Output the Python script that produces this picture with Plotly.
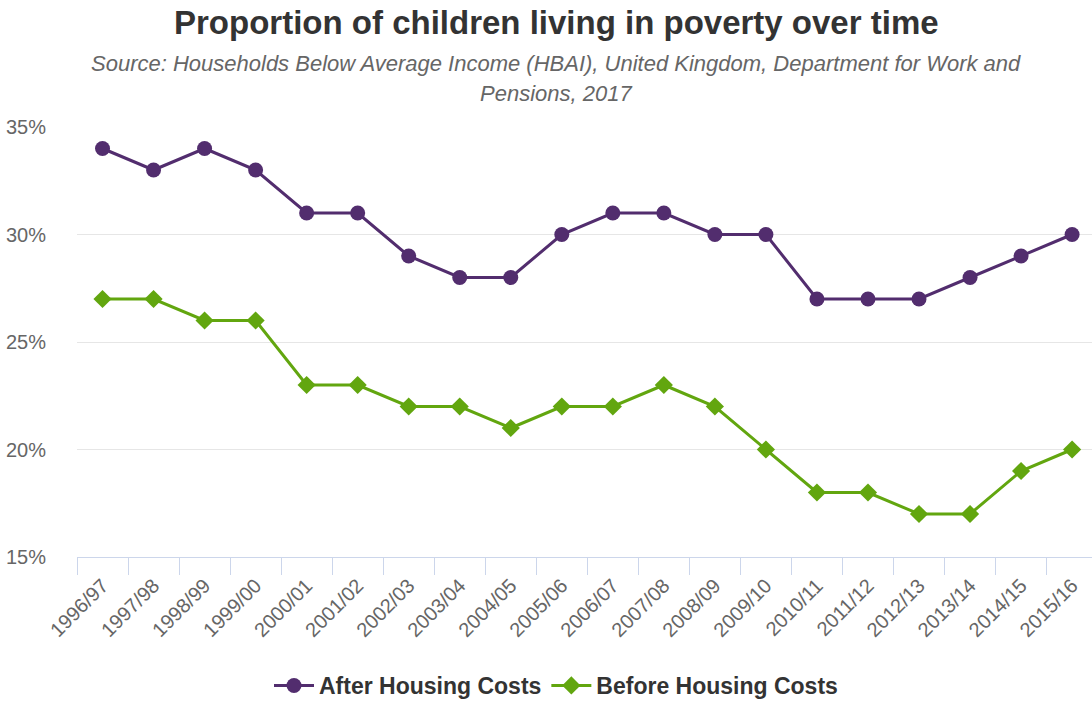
import plotly.graph_objects as go

years = ["1996/97", "1997/98", "1998/99", "1999/00", "2000/01", "2001/02", "2002/03",
         "2003/04", "2004/05", "2005/06", "2006/07", "2007/08", "2008/09", "2009/10",
         "2010/11", "2011/12", "2012/13", "2013/14", "2014/15", "2015/16"]
after_housing = [34, 33, 34, 33, 31, 31, 29, 28, 28, 30, 31, 31, 30, 30, 27, 27, 27, 28, 29, 30]
before_housing = [27, 27, 26, 26, 23, 23, 22, 22, 21, 22, 22, 23, 22, 20, 18, 18, 17, 17, 19, 20]
y_ticks = [15, 20, 25, 30, 35]

FONT = "Liberation Sans, Arial, Helvetica, sans-serif"
PURPLE = "#522d6e"
GREEN = "#62a60f"

fig = go.Figure()
fig.add_trace(go.Scatter(
    x=years, y=after_housing, name="After Housing Costs", mode="lines+markers",
    line=dict(color=PURPLE, width=3),
    marker=dict(symbol="circle", size=15, color=PURPLE),
))
fig.add_trace(go.Scatter(
    x=years, y=before_housing, name="Before Housing Costs", mode="lines+markers",
    line=dict(color=GREEN, width=3),
    marker=dict(symbol="diamond", size=14, color=GREEN),
))

W, H = 1092, 707
ml, mr, mt, mb = 77, 0, 127, 147
ph = H - mt - mb
cx = (556 - ml) / (W - ml - mr)


def py(pix):
    return 1 + (mt - pix) / ph


fig.update_layout(
    width=W, height=H,
    margin=dict(l=ml, r=mr, t=mt, b=mb),
    paper_bgcolor="white", plot_bgcolor="white",
    font=dict(family=FONT, color="#666666", size=18),
    showlegend=True,
    legend=dict(
        orientation="h", x=cx, xanchor="center", y=py(690), yanchor="middle",
        font=dict(size=23, color="#333333", family=FONT, weight="bold"),
        itemwidth=40, tracegroupgap=0,
    ),
    annotations=[
        dict(text="<b>Proportion of children living in poverty over time</b>",
             xref="paper", yref="paper", x=cx, y=py(22), xanchor="center", yanchor="middle",
             showarrow=False, font=dict(size=33, color="#333333", family=FONT)),
        dict(text="<i>Source: Households Below Average Income (HBAI), United Kingdom, Department for Work and</i>",
             xref="paper", yref="paper", x=cx, y=py(63), xanchor="center", yanchor="middle",
             showarrow=False, font=dict(size=22, color="#666666", family=FONT)),
        dict(text="<i>Pensions, 2017</i>",
             xref="paper", yref="paper", x=cx, y=py(93), xanchor="center", yanchor="middle",
             showarrow=False, font=dict(size=22, color="#666666", family=FONT)),
    ],
)

fig.update_xaxes(
    type="category", range=[-0.5, 19.39],
    showgrid=False, zeroline=False,
    showline=True, linecolor="#ccd6eb", linewidth=1,
    ticks="outside", tickson="boundaries", ticklen=17, tickcolor="#ccd6eb", tickwidth=1,
    ticklabelstandoff=8,
    tickangle=-45, tickfont=dict(size=20, color="#666666", family=FONT),
)
fig.update_yaxes(
    range=[15, 35], tickvals=y_ticks, ticktext=[f"{v}%" for v in y_ticks],
    showgrid=True, gridcolor="#e6e6e6", gridwidth=1,
    zeroline=False, showline=False,
    ticks="outside", ticklen=26, tickcolor="rgba(0,0,0,0)",
    tickfont=dict(size=20, color="#666666", family=FONT),
)

fig.write_html("out.html")
